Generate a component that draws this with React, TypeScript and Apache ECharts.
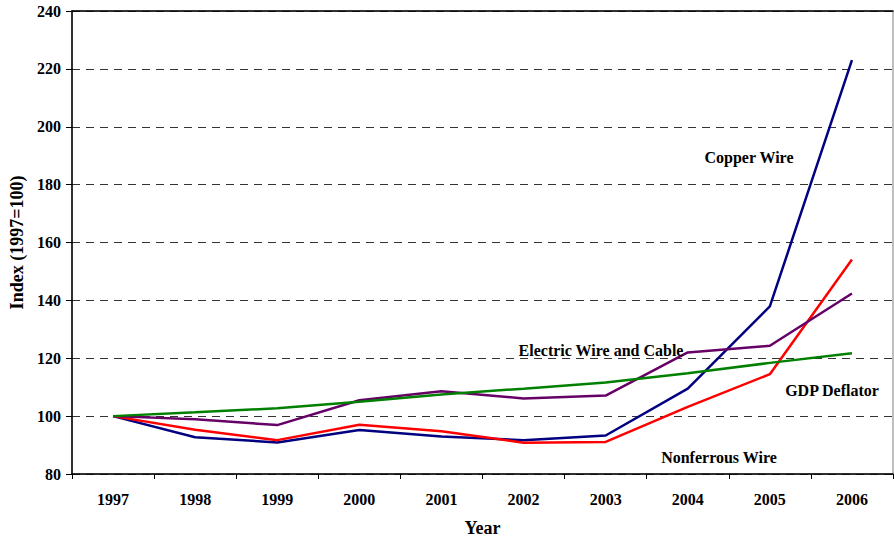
import React, { useEffect, useRef } from "react";
import * as echarts from "echarts";

const years = ["1997", "1998", "1999", "2000", "2001", "2002", "2003", "2004", "2005", "2006"];
const copperWire = [100, 92.7, 90.9, 95.2, 93.0, 91.7, 93.3, 109.5, 137.9, 223.0];
const nonferrousWire = [100, 95.3, 91.7, 97.0, 94.8, 90.8, 91.1, 103.2, 114.5, 154.1];
const electricWireCable = [100, 98.9, 96.9, 105.5, 108.6, 106.1, 107.1, 122.0, 124.3, 142.4];
const gdpDeflator = [100, 101.3, 102.7, 105.0, 107.5, 109.5, 111.6, 114.8, 118.4, 121.7];

const FONT = "Liberation Serif";

export default function App() {
  const ref = useRef<HTMLDivElement>(null);
  useEffect(() => {
    if (!ref.current) return;
    const chart = echarts.init(ref.current, undefined, { renderer: "svg" });
    const labelStyle = (text: string, x: number, y: number) => ({
      type: "text",
      x,
      y,
      style: {
        text,
        fontFamily: FONT,
        fontWeight: "bold",
        fontSize: 16,
        fill: "#000",
        align: "center",
        verticalAlign: "middle",
      },
      z: 100,
    });
    chart.setOption({
      animation: false,
      backgroundColor: "#fff",
      textStyle: { fontFamily: FONT },
      grid: {
        left: 69,
        right: 1,
        top: 11,
        bottom: 63,
        show: true,
        borderColor: "#808080",
        borderWidth: 1,
      },
      xAxis: [
        {
          type: "category",
          data: years,
          boundaryGap: true,
          name: "Year",
          nameLocation: "middle",
          nameGap: 45,
          nameTextStyle: { fontFamily: FONT, fontWeight: "bold", fontSize: 18, color: "#000" },
          axisLine: { lineStyle: { color: "#000", width: 1.5 } },
          axisTick: { show: true, length: 5, lineStyle: { color: "#000" }, alignWithLabel: false },
          axisLabel: { fontFamily: FONT, fontWeight: "bold", fontSize: 16, color: "#000", margin: 17 },
          splitLine: { show: false },
        },
        {
          type: "category",
          data: years,
          position: "top",
          axisLine: { lineStyle: { color: "#000", width: 1.5 } },
          axisTick: { show: false },
          axisLabel: { show: false },
          splitLine: { show: false },
        },
      ],
      yAxis: {
        type: "value",
        min: 80,
        max: 240,
        interval: 20,
        name: "Index (1997=100)",
        nameLocation: "middle",
        nameGap: 46,
        nameTextStyle: { fontFamily: FONT, fontWeight: "bold", fontSize: 18, color: "#000" },
        axisLine: { show: true, lineStyle: { color: "#000", width: 1.5 } },
        axisTick: { show: true, length: 6, lineStyle: { color: "#000" } },
        axisLabel: { fontFamily: FONT, fontWeight: "bold", fontSize: 16, color: "#000", margin: 11 },
        splitLine: { show: true, lineStyle: { color: "#333", type: [8, 6], width: 1 } },
      },
      series: [
        {
          name: "Copper Wire",
          type: "line",
          data: copperWire,
          symbol: "none",
          lineStyle: { color: "#000080", width: 2.5 },
          z: 3,
        },
        {
          name: "Nonferrous Wire",
          type: "line",
          data: nonferrousWire,
          symbol: "none",
          lineStyle: { color: "#ff0000", width: 2.5 },
          z: 4,
        },
        {
          name: "Electric Wire and Cable",
          type: "line",
          data: electricWireCable,
          symbol: "none",
          lineStyle: { color: "#660066", width: 2.5 },
          z: 5,
        },
        {
          name: "GDP Deflator",
          type: "line",
          data: gdpDeflator,
          symbol: "none",
          lineStyle: { color: "#008000", width: 2.5 },
          z: 6,
        },
      ],
      graphic: [
        labelStyle("Copper Wire", 749, 157),
        labelStyle("Electric Wire and Cable", 601, 350),
        labelStyle("GDP Deflator", 832, 390),
        labelStyle("Nonferrous Wire", 719, 457),
      ],
    });
    return () => chart.dispose();
  }, []);
  return <div ref={ref} style={{ width: 894, height: 542, position: "absolute", left: 0, top: 0 }} />;
}
